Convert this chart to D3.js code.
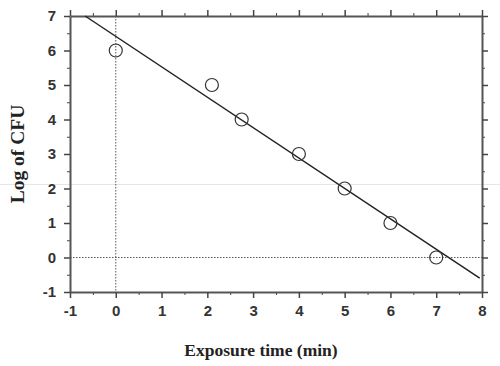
<!DOCTYPE html>
<html>
<head>
<meta charset="utf-8">
<script src="https://cdn.jsdelivr.net/npm/d3@7"></script>
<style>
  body { margin: 0; background: #fff; }
</style>
</head>
<body>
<div id="chart"></div>
<script>
// measured points
let timeMin = [0, 2.1, 2.75, 4, 5, 6, 7];
let logCfu = [6, 5, 4, 3, 2, 1, 0];
// fitted regression line end points
let fitX = [-0.67, 7.95];
let fitY = [7, -0.6];
let xTicks = [-1, 0, 1, 2, 3, 4, 5, 6, 7, 8];
let yTicks = [-1, 0, 1, 2, 3, 4, 5, 6, 7];

var W = 500, H = 366;
var margin = {top: 16, right: 18, bottom: 74, left: 70},
    width = W - margin.left - margin.right,
    height = H - margin.top - margin.bottom;

var root = d3.select("#chart").append("svg")
    .attr("width", W)
    .attr("height", H);

// faint scan line across the picture
root.append("line")
    .attr("x1", 0).attr("x2", W)
    .attr("y1", 184.5).attr("y2", 184.5)
    .style("stroke", "#e6e6e6")
    .style("stroke-width", 1)

var svg = root.append("g")
    .attr("transform", "translate(" + margin.left + "," + margin.top + ")");

var x = d3.scaleLinear().domain([-1, 8]).range([0, width]);
var y = d3.scaleLinear().domain([-1, 7]).range([height, 0]);

var minorX = d3.range(-0.5, 8, 1);
var minorY = d3.range(-0.5, 7, 1);
var fmt = function (d) { return String(d); };

function styleAxis(g, showText) {
    g.select(".domain").style("stroke", "#555").style("stroke-width", 2);
    g.selectAll(".tick line").style("stroke", "#444").style("stroke-width", 1.5);
    g.selectAll(".tick text")
        .style("font-family", "'Liberation Sans', Arial, sans-serif")
        .style("font-weight", "bold")
        .style("font-size", "15px")
        .style("fill", "#333")
        .style("display", showText ? null : "none");
}

// minor ticks
svg.append("g").attr("transform", "translate(0," + height + ")")
    .call(d3.axisBottom(x).tickValues(minorX).tickSize(3).tickFormat(""))
    .call(g => { g.select(".domain").remove(); g.selectAll("line").style("stroke", "#444"); });
svg.append("g")
    .call(d3.axisTop(x).tickValues(minorX).tickSize(3).tickFormat(""))
    .call(g => { g.select(".domain").remove(); g.selectAll("line").style("stroke", "#444"); });
svg.append("g")
    .call(d3.axisLeft(y).tickValues(minorY).tickSize(3).tickFormat(""))
    .call(g => { g.select(".domain").remove(); g.selectAll("line").style("stroke", "#444"); });
svg.append("g").attr("transform", "translate(" + width + ",0)")
    .call(d3.axisRight(y).tickValues(minorY).tickSize(3).tickFormat(""))
    .call(g => { g.select(".domain").remove(); g.selectAll("line").style("stroke", "#444"); });

// major axes
svg.append("g").attr("transform", "translate(0," + height + ")")
    .call(d3.axisBottom(x).tickValues(xTicks).tickSize(6).tickSizeOuter(0).tickPadding(7).tickFormat(fmt))
    .call(g => styleAxis(g, true));
svg.append("g")
    .call(d3.axisTop(x).tickValues(xTicks).tickSize(6).tickSizeOuter(0).tickFormat(fmt))
    .call(g => styleAxis(g, false));
svg.append("g")
    .call(d3.axisLeft(y).tickValues(yTicks).tickSize(6).tickSizeOuter(0).tickPadding(8).tickFormat(fmt))
    .call(g => styleAxis(g, true));
svg.append("g").attr("transform", "translate(" + width + ",0)")
    .call(d3.axisRight(y).tickValues(yTicks).tickSize(6).tickSizeOuter(0).tickFormat(fmt))
    .call(g => styleAxis(g, false));

// dotted reference lines at x = 0 and y = 0
svg.append("line")
    .attr("x1", x(0)).attr("x2", x(0))
    .attr("y1", y(7)).attr("y2", y(-1))
    .style("stroke", "#555")
    .style("stroke-width", 1)
    .style("stroke-dasharray", "1.5,1.5")
svg.append("line")
    .attr("x1", x(-1)).attr("x2", x(8))
    .attr("y1", y(0)).attr("y2", y(0))
    .style("stroke", "#555")
    .style("stroke-width", 1)
    .style("stroke-dasharray", "1.5,1.5")

// regression line
svg.append("path")
    .datum(d3.zip(fitX, fitY))
    .attr("d", d3.line().x(d => x(d[0])).y(d => y(d[1])))
    .style("fill", "none")
    .style("stroke", "#222")
    .style("stroke-width", 1.5)

// points
svg.append("g")
    .selectAll("circle")
    .data(d3.zip(timeMin, logCfu))
    .enter()
    .append("circle")
    .attr("cx", d => x(d[0]))
    .attr("cy", d => y(d[1]))
    .attr("r", 6.5)
    .style("fill", "none")
    .style("stroke", "#333")
    .style("stroke-width", 1.2)

// axis titles
root.append("text")
    .attr("text-anchor", "middle")
    .attr("x", 261)
    .attr("y", 356)
    .text("Exposure time (min)")
    .style("font-family", "'Liberation Serif', 'Times New Roman', serif")
    .style("font-weight", "bold")
    .style("font-size", "17.5px")
    .style("fill", "#222")
root.append("text")
    .attr("text-anchor", "middle")
    .attr("transform", "translate(24,154) rotate(-90)")
    .text("Log of CFU")
    .style("font-family", "'Liberation Serif', 'Times New Roman', serif")
    .style("font-weight", "bold")
    .style("font-size", "19.5px")
    .style("fill", "#222")
</script>
</body>
</html>
